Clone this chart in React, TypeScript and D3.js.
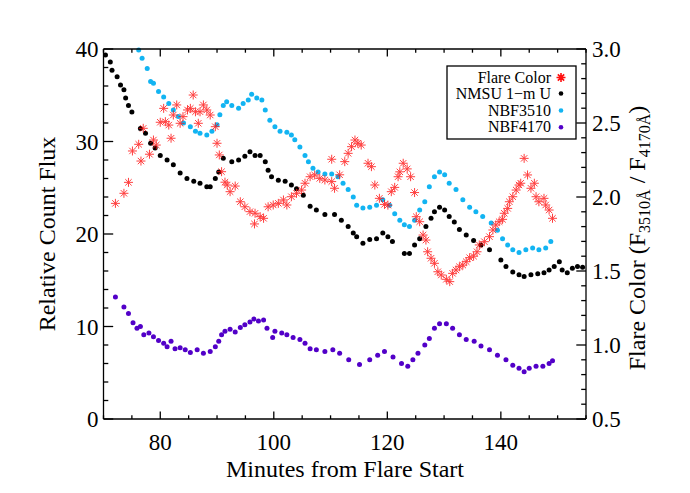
import React from "react";
import * as d3 from "d3";

const nmsuU: [number, number][] = [
  [70.35, 39.35], [71.2, 38.6], [71.5, 37.7], [72.4, 37.0], [73.0, 36.1], [73.6, 35.6], [73.9, 34.7], [74.4, 33.9], [75.0, 33.2],
  [76.5, 31.4], [77.4, 30.9], [78.3, 29.8], [79.1, 29.3], [80.0, 28.5], [81.2, 28.0], [82.3, 27.5], [83.5, 26.6], [84.7, 26.0],
  [85.9, 25.7], [87.0, 25.5], [88.2, 25.1], [88.8, 25.1], [89.7, 26.0], [90.3, 26.7], [91.1, 28.2], [92.6, 27.8], [93.8, 28.0],
  [94.9, 28.4], [95.8, 28.9], [96.7, 28.5], [97.6, 28.5], [98.5, 27.8], [99.0, 26.9], [99.6, 26.2], [100.8, 25.8], [102.0, 25.7],
  [103.1, 25.3], [104.0, 24.9], [105.2, 24.2], [106.4, 23.0], [107.5, 22.6], [109.0, 22.1], [110.7, 22.1], [111.9, 21.5],
  [113.1, 20.8], [114.0, 20.1], [114.6, 19.7], [115.7, 19.0], [116.9, 19.4], [118.1, 19.5], [119.2, 20.1], [120.1, 19.7],
  [120.9, 19.2], [123.0, 17.9], [123.9, 17.9], [124.8, 18.8], [125.7, 19.5], [126.8, 20.8], [127.7, 21.7], [128.3, 22.4],
  [129.2, 22.9], [130.1, 22.6], [130.9, 21.9], [131.8, 21.3], [132.7, 20.5], [133.9, 19.9], [135.2, 19.3], [136.5, 18.8],
  [138.0, 18.3], [140.0, 17.2], [140.9, 16.5], [142.1, 15.9], [143.2, 15.6], [144.1, 15.4], [145.3, 15.6], [146.5, 15.7],
  [147.6, 15.8], [148.5, 16.1], [149.4, 16.5], [150.3, 17.0], [150.8, 16.1], [151.7, 15.8], [152.6, 16.3], [153.5, 16.5], [154.4, 16.4],
];

const nbf3510: [number, number][] = [
  [76.2, 39.9], [76.8, 39.0], [77.7, 37.9], [78.3, 36.5], [78.8, 36.3], [79.7, 35.4], [80.6, 34.8], [81.5, 34.1], [82.3, 33.4],
  [83.2, 32.7], [84.1, 32.0], [85.3, 31.6], [86.2, 31.1], [87.0, 30.9], [88.2, 30.7], [89.1, 31.1], [90.0, 31.8], [90.5, 32.9],
  [91.1, 33.9], [91.7, 34.3], [92.6, 33.9], [93.8, 33.6], [94.6, 34.1], [95.5, 34.5], [96.1, 35.1], [97.0, 34.7], [97.9, 34.5],
  [98.5, 33.4], [99.3, 32.3], [100.2, 31.6], [101.1, 31.1], [102.3, 31.0], [103.1, 30.7], [103.7, 30.2], [104.6, 29.4],
  [105.5, 28.5], [106.1, 27.8], [106.9, 27.1], [107.8, 26.7], [109.0, 26.5], [110.2, 26.5], [111.3, 26.2], [112.2, 25.5],
  [113.1, 24.8], [114.0, 24.0], [114.6, 23.1], [115.7, 22.8], [116.9, 22.9], [118.1, 23.1], [119.2, 23.7], [120.4, 23.1],
  [121.3, 22.2], [122.2, 21.5], [123.0, 21.0], [123.9, 20.8], [124.8, 21.5], [125.7, 22.6], [126.6, 23.5], [127.4, 25.1],
  [128.3, 26.2], [129.2, 26.7], [130.1, 26.4], [130.9, 25.5], [132.1, 24.8], [133.3, 23.7], [134.5, 22.9], [135.6, 22.4],
  [136.8, 21.9], [138.3, 21.2], [139.4, 20.4], [140.3, 19.5], [141.2, 18.8], [142.1, 18.3], [143.2, 18.0], [144.4, 18.3],
  [145.6, 18.5], [146.7, 18.3], [147.9, 18.5], [148.8, 19.2],
];

const nbf4170: [number, number][] = [
  [72.1, 13.2], [73.6, 12.1], [74.4, 11.4], [75.2, 10.4], [75.9, 9.8], [76.5, 10.0], [77.1, 9.1], [78.0, 9.3], [78.8, 8.9],
  [79.7, 8.5], [80.6, 8.2], [81.2, 7.8], [81.9, 8.4], [82.6, 7.6], [83.5, 7.7], [84.4, 7.5], [85.3, 7.2], [86.5, 7.5],
  [87.6, 7.1], [88.8, 7.3], [89.7, 7.8], [90.3, 8.4], [90.8, 9.1], [91.4, 9.5], [92.3, 9.7], [93.2, 9.4], [94.1, 9.9],
  [94.9, 10.2], [95.8, 10.5], [96.5, 10.8], [97.3, 10.6], [98.2, 10.7], [98.8, 9.8], [99.8, 8.8], [100.2, 9.5], [101.4, 9.3],
  [102.3, 9.1], [103.4, 8.8], [104.6, 8.6], [105.5, 8.2], [106.4, 7.6], [107.5, 7.5], [109.0, 7.3], [110.4, 7.5], [111.6, 7.1],
  [113.2, 6.4], [115.1, 5.9], [116.9, 6.4], [118.3, 6.9], [119.5, 7.3], [121.0, 6.7], [122.5, 6.0], [123.6, 5.7], [124.5, 6.4],
  [125.4, 7.1], [126.6, 8.0], [127.4, 8.7], [128.3, 9.8], [129.2, 10.3], [130.4, 10.3], [131.5, 9.8], [132.7, 9.1], [133.9, 8.6],
  [135.3, 8.4], [136.5, 7.9], [138.0, 7.5], [139.4, 6.9], [140.9, 6.4], [142.1, 5.8], [143.2, 5.5], [144.1, 5.1], [145.0, 5.5],
  [146.2, 5.7], [147.4, 5.7], [148.5, 6.0], [149.1, 6.3],
];

const flareColor: [number, number][] = [
  [72.1, 1.957], [73.6, 2.025], [74.4, 2.099], [75.1, 2.311], [76.2, 2.356], [76.6, 2.243], [77.0, 2.464], [78.1, 2.289],
  [78.8, 2.385], [79.3, 2.351], [80.0, 2.505], [80.6, 2.599], [80.9, 2.509], [81.5, 2.486], [81.9, 2.397], [82.3, 2.554],
  [82.9, 2.622], [83.5, 2.498], [84.0, 2.543], [84.8, 2.588], [85.3, 2.599], [85.8, 2.689], [86.2, 2.576], [86.7, 2.498],
  [87.0, 2.576], [87.6, 2.622], [88.2, 2.588], [88.8, 2.554], [89.7, 2.475], [90.0, 2.363], [90.4, 2.284], [90.8, 2.171],
  [91.4, 2.1], [91.8, 2.081], [92.3, 2.036], [93.2, 2.074], [94.1, 1.968], [94.9, 1.934], [95.8, 1.901], [96.7, 1.89],
  [96.6, 1.818], [97.6, 1.867], [98.2, 1.856], [99.0, 1.934], [99.9, 1.946], [100.8, 1.957], [101.7, 1.98], [102.3, 1.946],
  [103.1, 2.002], [104.0, 2.025], [104.9, 2.047], [105.5, 2.093], [106.4, 2.137], [107.2, 2.149], [108.1, 2.126], [109.0, 2.115],
  [110.2, 2.255], [110.2, 2.104], [110.7, 2.059], [111.6, 2.15], [112.5, 2.239], [113.1, 2.295], [113.7, 2.34], [114.3, 2.385],
  [114.8, 2.363], [115.4, 2.351], [116.6, 2.228], [117.2, 2.205], [117.8, 2.081], [118.6, 1.991], [119.5, 1.95], [120.1, 1.945],
  [120.7, 2.036], [121.3, 2.065], [121.9, 2.137], [122.2, 2.17], [122.8, 2.228], [123.5, 2.19], [124.1, 2.137], [124.8, 2.03],
  [125.1, 1.867], [125.7, 1.833], [126.3, 1.743], [126.8, 1.709], [127.1, 1.63], [127.7, 1.586], [128.3, 1.552], [128.9, 1.495],
  [129.5, 1.473], [130.4, 1.444], [131.0, 1.428], [131.5, 1.484], [132.1, 1.507], [132.7, 1.529], [133.3, 1.54], [133.9, 1.563],
  [134.5, 1.59], [135.2, 1.6], [135.8, 1.63], [136.2, 1.676], [137.1, 1.698], [138.0, 1.732], [138.6, 1.777], [139.1, 1.811],
  [139.7, 1.833], [140.3, 1.849], [140.6, 1.89], [141.2, 1.923], [141.5, 1.968], [142.1, 2.002], [142.7, 2.047], [143.2, 2.081],
  [143.5, 2.093], [144.1, 2.261], [144.7, 2.149], [145.3, 2.059], [145.9, 2.093], [146.2, 2.002], [146.7, 1.968], [147.6, 1.991],
  [147.9, 1.946], [148.5, 1.912], [149.1, 1.856],
];

const xTicks = [80, 100, 120, 140];
const yLeftTicks = [0, 10, 20, 30, 40];
const yRightTicks = [0.5, 1.0, 1.5, 2.0, 2.5, 3.0];
const legendLabels = ["Flare Color", "NMSU 1\u2212m U", "NBF3510", "NBF4170"];

const W = 690, H = 493;
const L = 103.5, R = 586, T = 49, B = 419;
const FONT = "'Liberation Serif', 'Times New Roman', serif";
const BLACK = "#000000", CYAN = "#12b4f2", PURPLE = "#5200c8", RED = "#ff1010";

function star(s: number) {
  const d = s * 0.7071;
  return `M${-s},0L${s},0M0,${-s}L0,${s}M${-d},${-d}L${d},${d}M${-d},${d}L${d},${-d}`;
}

export default function App() {
  const x = d3.scaleLinear().domain([70, 155]).range([L, R]);
  const yL = d3.scaleLinear().domain([0, 40]).range([B, T]);
  const yR = d3.scaleLinear().domain([0.5, 3.0]).range([B, T]);

  const xMinor = d3.range(70, 156, 5).filter((v) => !xTicks.includes(v));
  const yLMinor = d3.range(0, 41, 2).filter((v) => v % 10 !== 0);
  const yRMinor = d3.range(5, 31, 1).map((v) => v / 10).filter((v) => Math.round(v * 10) % 5 !== 0);

  const xMajLen = 7.4, xMinLen = 3.7, yMajLen = 9.7, yMinLen = 4.8;
  const ax = { stroke: "#000", strokeWidth: 1.3 };

  const dots = (data: [number, number][], color: string) =>
    data.map(([t, v], i) => <circle key={i} cx={x(t)} cy={yL(v)} r={2.5} fill={color} />);

  const legY = [77.5, 93.5, 110.5, 127.3];

  return (
    <svg width={W} height={H} style={{ position: "fixed", left: 0, top: 0, background: "#fff" }} fontFamily={FONT}>
      <rect x={0} y={0} width={W} height={H} fill="#fff" />
      {/* data */}
      <g>{dots(nmsuU, BLACK)}</g>
      <g>{dots(nbf3510, CYAN)}</g>
      <g>{dots(nbf4170, PURPLE)}</g>
      <g stroke={RED} strokeWidth={1} fill="none" opacity={0.8}>
        {flareColor.map(([t, c], i) => (
          <path key={i} d={star(4.5)} transform={`translate(${x(t)},${yR(c)})`} />
        ))}
      </g>

      {/* axes frame */}
      <line x1={L} x2={R} y1={B} y2={B} {...ax} />
      <line x1={L} x2={R} y1={T} y2={T} {...ax} />
      <line x1={L} x2={L} y1={T} y2={B} {...ax} />
      <line x1={R} x2={R} y1={T} y2={B} {...ax} />

      {/* x ticks */}
      {xTicks.map((v) => (
        <g key={"xt" + v}>
          <line x1={x(v)} x2={x(v)} y1={B} y2={B - xMajLen} {...ax} />
          <line x1={x(v)} x2={x(v)} y1={T} y2={T + xMajLen} {...ax} />
          <text x={x(v)} y={450} fontSize={23} textAnchor="middle">{v}</text>
        </g>
      ))}
      {xMinor.map((v) => (
        <g key={"xm" + v}>
          <line x1={x(v)} x2={x(v)} y1={B} y2={B - xMinLen} {...ax} />
          <line x1={x(v)} x2={x(v)} y1={T} y2={T + xMinLen} {...ax} />
        </g>
      ))}

      {/* left y ticks */}
      {yLeftTicks.map((v) => (
        <g key={"yl" + v}>
          <line x1={L} x2={L + yMajLen} y1={yL(v)} y2={yL(v)} {...ax} />
          <text x={L - 5} y={yL(v) + 8} fontSize={23} textAnchor="end">{v}</text>
        </g>
      ))}
      {yLMinor.map((v) => (
        <line key={"ylm" + v} x1={L} x2={L + yMinLen} y1={yL(v)} y2={yL(v)} {...ax} />
      ))}

      {/* right y ticks */}
      {yRightTicks.map((v) => (
        <g key={"yr" + v}>
          <line x1={R} x2={R - yMajLen} y1={yR(v)} y2={yR(v)} {...ax} />
          <text x={R + 6} y={yR(v) + 8} fontSize={23} textAnchor="start">{v.toFixed(1)}</text>
        </g>
      ))}
      {yRMinor.map((v) => (
        <line key={"yrm" + v} x1={R} x2={R - yMinLen} y1={yR(v)} y2={yR(v)} {...ax} />
      ))}

      {/* axis titles */}
      <text x={345} y={477} fontSize={24} textAnchor="middle">Minutes from Flare Start</text>
      <text transform={`translate(55,${(T + B) / 2}) rotate(-90)`} fontSize={24} textAnchor="middle">Relative Count Flux</text>
      <text transform={`translate(645,${(T + B) / 2 + 4}) rotate(-90)`} fontSize={24} textAnchor="middle">
        Flare Color (F<tspan fontSize={16} dy={5}>3510Å</tspan>
        <tspan dy={-5}> / F</tspan>
        <tspan fontSize={16} dy={5}>4170Å</tspan>
        <tspan dy={-5}>)</tspan>
      </text>

      {/* legend */}
      <rect x={447} y={66} width={129} height={73} fill="#fff" stroke="#000" strokeWidth={1.3} />
      {legendLabels.map((lab, i) => (
        <text key={lab} x={551} y={legY[i] + 5} fontSize={16} textAnchor="end">{lab}</text>
      ))}
      <path d={star(4.5)} transform={`translate(561,${legY[0]})`} stroke={RED} strokeWidth={1.6} fill="none" />
      <circle cx={561} cy={legY[1]} r={2.3} fill={BLACK} />
      <circle cx={561} cy={legY[2]} r={2.3} fill={CYAN} />
      <circle cx={561} cy={legY[3]} r={2.3} fill={PURPLE} />
    </svg>
  );
}
